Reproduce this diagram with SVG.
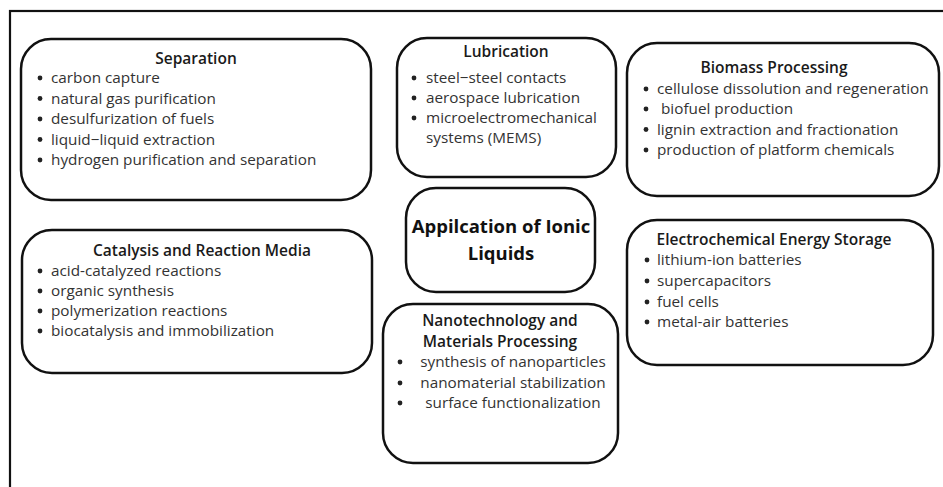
<svg xmlns="http://www.w3.org/2000/svg" width="943" height="487" viewBox="0 0 943 487">
<style>
.box{fill:#fff;stroke:#111;stroke-width:2.5}
.frame{fill:none;stroke:#111;stroke-width:2.2}
.t{font-family:"Open Sans","Liberation Sans",sans-serif;font-size:15.5px;font-weight:600;fill:#1a1a1a;text-anchor:middle}
.it{font-family:"Open Sans","Liberation Sans",sans-serif;font-size:15.3px;fill:#333}
.ct{font-family:"Open Sans","Liberation Sans",sans-serif;font-size:18.5px;font-weight:bold;fill:#111;text-anchor:middle}
.b{fill:#222}
</style>
<rect width="943" height="487" fill="#fff"/>
<rect class="frame" x="10" y="11" width="960" height="500"/>
<g id="connectors"></g>

<g id="separation">
<rect class="box" x="21" y="39" width="350" height="161" rx="30"/>
<text class="t" x="196" y="64">Separation</text>
<circle class="b" cx="40" cy="78" r="2.4"/><text class="it" x="51" y="83">carbon capture</text>
<circle class="b" cx="40" cy="98.5" r="2.4"/><text class="it" x="51" y="103.5">natural gas purification</text>
<circle class="b" cx="40" cy="119" r="2.4"/><text class="it" x="51" y="124">desulfurization of fuels</text>
<circle class="b" cx="40" cy="139.5" r="2.4"/><text class="it" x="51" y="144.5">liquid−liquid extraction</text>
<circle class="b" cx="40" cy="160" r="2.4"/><text class="it" x="51" y="165">hydrogen purification and separation</text>
</g>

<g id="lubrication">
<rect class="box" x="397" y="38" width="219" height="139" rx="30"/>
<text class="t" x="506" y="57">Lubrication</text>
<circle class="b" cx="414" cy="78" r="2.4"/><text class="it" x="426" y="83">steel−steel contacts</text>
<circle class="b" cx="414" cy="98" r="2.4"/><text class="it" x="426" y="103">aerospace lubrication</text>
<circle class="b" cx="414" cy="118" r="2.4"/><text class="it" x="426" y="123">microelectromechanical</text>
<text class="it" x="426" y="143">systems (MEMS)</text>
</g>

<g id="biomass">
<rect class="box" x="627" y="43" width="312" height="153" rx="30"/>
<text class="t" x="774" y="73">Biomass Processing</text>
<circle class="b" cx="646" cy="89" r="2.4"/><text class="it" x="657" y="94">cellulose dissolution and regeneration</text>
<circle class="b" cx="646" cy="109" r="2.4"/><text class="it" x="661" y="114">biofuel production</text>
<circle class="b" cx="646" cy="129.5" r="2.4"/><text class="it" x="657" y="134.5">lignin extraction and fractionation</text>
<circle class="b" cx="646" cy="150" r="2.4"/><text class="it" x="657" y="155">production of platform chemicals</text>
</g>

<g id="center">
<rect class="box" x="406" y="188" width="189" height="104" rx="30"/>
<text class="ct" x="501" y="233">Appilcation of Ionic</text>
<text class="ct" x="501" y="260">Liquids</text>
</g>

<g id="catalysis">
<rect class="box" x="22" y="230" width="350" height="143" rx="30"/>
<text class="t" x="202" y="256">Catalysis and Reaction Media</text>
<circle class="b" cx="40" cy="271" r="2.4"/><text class="it" x="51" y="276">acid-catalyzed reactions</text>
<circle class="b" cx="40" cy="291" r="2.4"/><text class="it" x="51" y="296">organic synthesis</text>
<circle class="b" cx="40" cy="311" r="2.4"/><text class="it" x="51" y="316">polymerization reactions</text>
<circle class="b" cx="40" cy="331" r="2.4"/><text class="it" x="51" y="336">biocatalysis and immobilization</text>
</g>

<g id="electrochemical">
<rect class="box" x="627" y="220" width="306" height="145" rx="30"/>
<text class="t" x="774" y="245">Electrochemical Energy Storage</text>
<circle class="b" cx="647" cy="260" r="2.4"/><text class="it" x="657" y="265">lithium-ion batteries</text>
<circle class="b" cx="647" cy="281" r="2.4"/><text class="it" x="657" y="286">supercapacitors</text>
<circle class="b" cx="647" cy="302" r="2.4"/><text class="it" x="657" y="307">fuel cells</text>
<circle class="b" cx="647" cy="322" r="2.4"/><text class="it" x="657" y="327">metal-air batteries</text>
</g>

<g id="nanotech">
<rect class="box" x="383" y="304" width="235" height="159" rx="30"/>
<text class="t" x="500" y="326">Nanotechnology and</text>
<text class="t" x="500" y="347">Materials Processing</text>
<circle class="b" cx="400" cy="362" r="2.4"/><text class="it" x="513" y="367" text-anchor="middle">synthesis of nanoparticles</text>
<circle class="b" cx="400" cy="383" r="2.4"/><text class="it" x="513" y="388" text-anchor="middle">nanomaterial stabilization</text>
<circle class="b" cx="400" cy="403" r="2.4"/><text class="it" x="513" y="408" text-anchor="middle">surface functionalization</text>
</g>
</svg>
